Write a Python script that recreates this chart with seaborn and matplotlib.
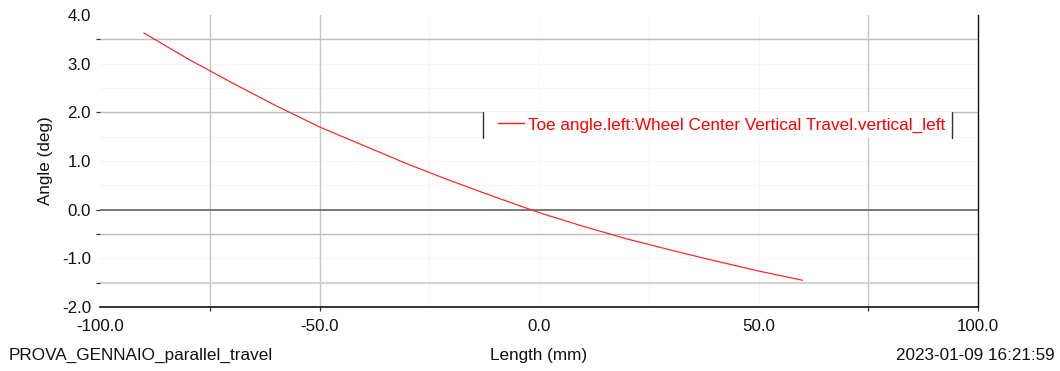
import numpy as np
import pandas as pd
import matplotlib
matplotlib.use("Agg")
import matplotlib.pyplot as plt
import seaborn as sns
from matplotlib.ticker import FixedLocator, FuncFormatter
from matplotlib.lines import Line2D
from matplotlib.patches import Rectangle

# ---- data ----
length_mm = [-90, -80, -70, -60, -50, -40, -30, -20, -10, 0, 10, 20, 30, 40, 50, 60]
toe_angle_deg = [3.63, 3.10, 2.61, 2.14, 1.70, 1.32, 0.94, 0.59, 0.26, -0.06,
                 -0.34, -0.60, -0.83, -1.05, -1.26, -1.45]
series_label = "Toe angle.left:Wheel Center Vertical Travel.vertical_left"
x_ticks = [-100, -50, 0, 50, 100]
y_ticks = [-2, -1, 0, 1, 2, 3, 4]
x_label = "Length (mm)"
y_label = "Angle (deg)"
footer_left = "PROVA_GENNAIO_parallel_travel"
footer_right = "2023-01-09 16:21:59"

df = pd.DataFrame({"Length": length_mm, "Angle": toe_angle_deg})

sns.set_theme(style="white")
plt.rcParams['font.family'] = ['Liberation Sans', 'DejaVu Sans']
FS = 12.3
TFS = 12.2
TXT = "#111111"

W, H = 1060, 371
fig = plt.figure(figsize=(W / 100, H / 100), dpi=100)
L, R, T, B = 100, 978, 15, 307
ax = fig.add_axes([L / W, 1 - B / H, (R - L) / W, (B - T) / H])

ax.set_xlim(-100, 100)
ax.set_ylim(-2, 4)

# faint background grid
for xv in np.arange(-75, 100, 25):
    ax.axvline(xv, color="#f6f6f6", lw=0.8, zorder=0)
for yv in np.arange(-1.5, 4.0, 0.5):
    ax.axhline(yv, color="#f6f6f6", lw=0.8, zorder=0)
# visible grid lines
for xv in [-75, -50, 75]:
    ax.axvline(xv, color="#c6c6c6", lw=1.0, zorder=0.5)
for yv in [3.5, 2.0, -0.5]:
    ax.axhline(yv, color="#bdbdbd", lw=1.0, zorder=0.5)
ax.axhline(-1.5, color="#d4d4d4", lw=1.6, zorder=0.5)
ax.axhline(0.0, color="#6e6e6e", lw=1.3, zorder=0.6)

sns.lineplot(data=df, x="Length", y="Angle", ax=ax, color="#ff2020",
             lw=0.85, zorder=3, label=series_label, legend=False)

# ticks
ax.xaxis.remove_overlapping_locs = False
ax.yaxis.remove_overlapping_locs = False
ax.xaxis.set_major_locator(FixedLocator(x_ticks))
ax.yaxis.set_major_locator(FixedLocator(y_ticks))
ax.xaxis.set_major_formatter(FuncFormatter(lambda v, p: f"{v:.1f}"))
ax.yaxis.set_major_formatter(FuncFormatter(lambda v, p: f"{v:.1f}"))
ax.xaxis.set_minor_locator(FixedLocator([-75, -50, 75, 100]))
ax.yaxis.set_minor_locator(FixedLocator([3.5, 2.0, 0.0, -0.5, -1.5]))
ax.tick_params(axis="both", which="major", length=0, labelsize=TFS, colors=TXT)
ax.tick_params(axis="x", which="major", pad=8.5)
ax.tick_params(axis="y", which="major", pad=6.5)
ax.tick_params(axis="both", which="minor", length=3, width=0.9, color="#333333",
               direction="out", left=True, bottom=True)

for s in ["left", "top"]:
    ax.spines[s].set_visible(False)
ax.spines["bottom"].set_color("#111111")
ax.spines["bottom"].set_linewidth(1.2)
ax.spines["right"].set_color("#111111")
ax.spines["right"].set_linewidth(1.0)

# axis labels
ax.set_ylabel(y_label, fontsize=FS, color=TXT)
ax.yaxis.set_label_coords((53 - L) / (R - L), 0.5)
ax.set_xlabel(x_label, fontsize=FS, color=TXT)
ax.xaxis.label.set_verticalalignment("baseline")
ax.xaxis.set_label_coords(0.5, (B - 360) / (B - T))

fig.text(9 / W, 1 - 360 / H, footer_left, fontsize=FS, color=TXT, ha="left", va="baseline")
fig.text(1055 / W, 1 - 360 / H, footer_right, fontsize=FS, color=TXT, ha="right", va="baseline")

# legend box (white background with left/right bars)
lx0, lx1, ly0, ly1 = 483, 952, 112, 138
def ax_x(px):
    return (px - L) / (R - L)
def ax_y(py):
    return (B - py) / (B - T)
ax.add_patch(Rectangle((ax_x(lx0), ax_y(ly1)), ax_x(lx1) - ax_x(lx0), ax_y(ly0) - ax_y(ly1),
                       transform=ax.transAxes, facecolor="white", edgecolor="none", zorder=1))
for px in (lx0, lx1):
    ax.add_line(Line2D([ax_x(px), ax_x(px)], [ax_y(ly1), ax_y(ly0)], transform=ax.transAxes,
                       color="#333333", lw=1.0, zorder=4))
handle = Line2D([], [], color="#ff1a1a", lw=1.0)
leg = ax.legend([handle], [series_label], loc="center left",
                bbox_to_anchor=(ax_x(498), ax_y(125)), borderaxespad=0, borderpad=0,
                frameon=False, fontsize=FS, handlelength=1.5, handletextpad=0.25,
                labelcolor="#ff0000")

fig.savefig("out.png", dpi=100)
